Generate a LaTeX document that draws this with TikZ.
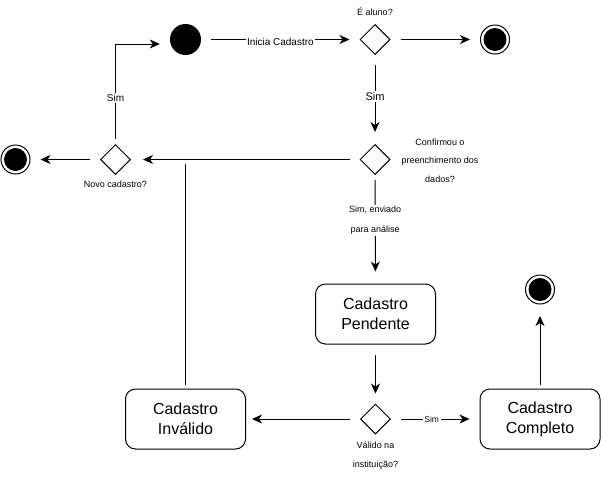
\documentclass[tikz,border=0pt]{standalone}
\usepackage{fontspec}
\setmainfont{Liberation Sans}
\usetikzlibrary{shapes.geometric,arrows.meta}
\begin{document}
\begin{tikzpicture}[x=1pt,y=-1pt,
  decision/.style={diamond,draw,line width=1pt,minimum width=30pt,minimum height=30pt,inner sep=0pt,fill=white},
  initial/.style={circle,fill=black,minimum size=31pt,inner sep=0pt},
  final/.style={circle,draw,line width=1pt,minimum size=29pt,inner sep=0pt,fill=white,
    path picture={\fill[black] (path picture bounding box.center) circle (11.5pt);}},
  state/.style={rectangle,rounded corners=10pt,draw,line width=1pt,minimum width=120pt,minimum height=60pt,align=center,font=\fontsize{16}{20}\selectfont},
  lbl/.style={font=\fontsize{9}{18.5}\selectfont,align=center,inner sep=1pt},
  elbl/.style={fill=white,inner sep=1.5pt,align=center},
  conn/.style={line width=1pt,-{Stealth[length=10pt,width=9pt,inset=3pt]},shorten <=10pt,shorten >=10pt},
  plain/.style={line width=1pt,shorten <=4pt},
]
\useasboundingbox (0,0) rectangle (601,490);

% nodes
\node[initial] (start) at (185.5,39.5) {};
\node[decision] (d1) at (375,39.5) {};
\node[final] (fin1) at (495,39.5) {};
\node[decision] (d2) at (375,159.5) {};
\node[decision] (d3) at (115.5,159.5) {};
\node[final] (fin2) at (15.5,159.5) {};
\node[state] (pend) at (375.5,314) {Cadastro\\Pendente};
\node[decision] (d4) at (375.5,419) {};
\node[state] (inv) at (185.5,419) {Cadastro\\Inválido};
\node[state] (comp) at (540,419) {Cadastro\\Completo};
\node[final] (fin3) at (540,289.5) {};
\coordinate (j) at (185.5,164);

% node labels
\node[lbl] (l1) at (375,12) {É aluno?};
\node[lbl] (l2) at (440,160.5) {Confirmou o\\preenchimento dos\\dados?};
\node[lbl] (l3) at (115.5,184.5) {Novo cadastro?};
\node[lbl,font=\fontsize{9}{19}\selectfont] (l4) at (375.5,455.5) {Válido na\\instituição?};

% connectors
\draw[conn] (start) -- node[elbl,font=\fontsize{10}{12}\selectfont,yshift=-2pt]{Inicia Cadastro} (d1);
\draw[conn] (d1) -- (fin1);
\draw[conn,shorten >=12pt] (d1) -- node[elbl,pos=0.47,font=\fontsize{11}{13}\selectfont]{Sim} (d2);
\draw[conn,shorten >=12pt] (d2) -- (d3);
\draw[conn] (d3) -- (fin2);
\draw[conn,shorten <=5pt] (d3.north) |- node[elbl,pos=0.23,font=\fontsize{10}{12}\selectfont]{Sim} ([yshift=-4.5pt]start.west);
\draw[conn,shorten <=5pt,shorten >=12pt] (d2) -- node[elbl,pos=0.42,font=\fontsize{9}{20}\selectfont]{Sim, enviado\\para análise} (pend);
\draw[conn] (pend) -- (d4);
\draw[conn,shorten >=6pt] (d4) -- (inv);
\draw[conn] (d4) -- node[elbl,pos=0.46,font=\fontsize{8.5}{10}\selectfont]{Sim} (comp);
\draw[conn,shorten <=4pt,shorten >=11.5pt] (comp) -- (fin3);
\draw[plain] (inv.north) -- (j);
\end{tikzpicture}
\end{document}
